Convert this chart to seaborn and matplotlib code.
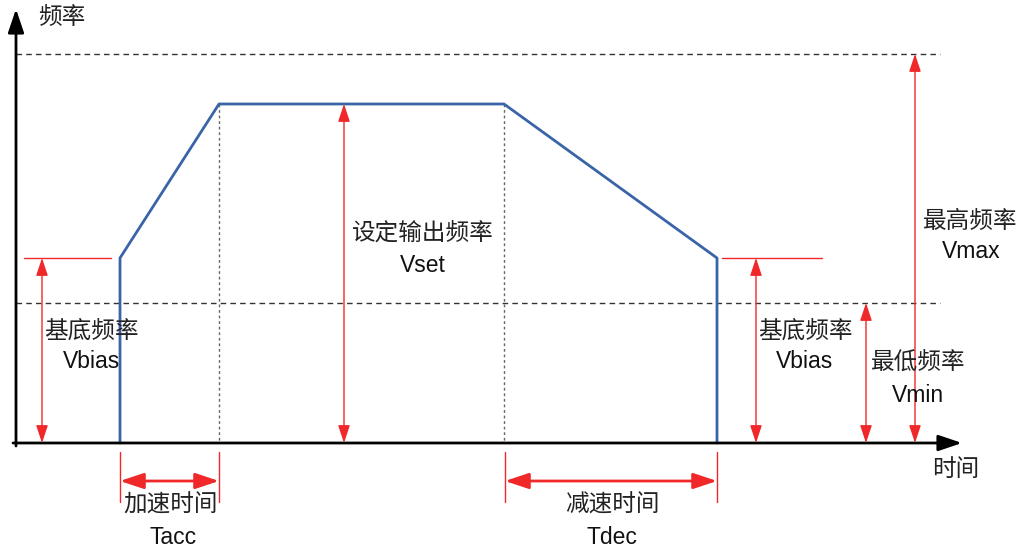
import matplotlib
matplotlib.use('Agg')
import matplotlib.pyplot as plt
import seaborn as sns
import pandas as pd
from matplotlib import font_manager

sns.set_theme(style='white')
plt.rcParams['font.family'] = ['Liberation Sans', 'Noto Sans CJK SC', 'DejaVu Sans']

names = sorted({f.name for f in font_manager.fontManager.ttflist})
narrow = 'Liberation Sans Narrow' if 'Liberation Sans Narrow' in names else 'Liberation Sans'
print(narrow)

# speed profile (pixel-like diagram coordinates, y grows downward)
curve_x = [120, 120, 219, 504, 717, 717]
curve_y = [443, 258, 104, 104, 258, 443]

# reference levels
y_base = 443
y_vmax = 54
y_vmin = 303
y_vbias = 258
y_vset = 104

# dimension arrows: (x, top)
v_arrows = [(42, y_vbias), (344, y_vset), (756, y_vbias), (866, y_vmin), (915, y_vmax)]
t_spans = [(120, 219), (505, 717)]

cjk_labels = [
    ('频率', 62, 18),
    ('时间', 956, 470),
    ('设定输出频率', 423, 234),
    ('基底频率', 91, 331),
    ('基底频率', 805, 331),
    ('最低频率', 918, 364),
    ('最高频率', 970, 222),
    ('加速时间', 171, 506),
    ('减速时间', 612, 506),
]
latin_labels = [
    ('Vset', 423, 265),
    ('Vbias', 92, 362),
    ('Vbias', 805, 362),
    ('Vmin', 918, 396),
    ('Vmax', 971, 252),
    ('Tacc', 173, 537),
    ('Tdec', 612, 537),
]

fig = plt.figure(figsize=(10.26, 5.5), dpi=100)
ax = fig.add_axes([0, 0, 1, 1])
ax.set_xlim(0, 1026)
ax.set_ylim(550, 0)
ax.axis('off')

red = '#f0282a'
blue = '#3a64a8'

# dashed limit lines
ax.plot([16, 940], [y_vmax, y_vmax], ls=(0, (4, 3)), color='#333333', lw=1)
ax.plot([16, 940], [y_vmin, y_vmin], ls=(0, (4, 3)), color='#333333', lw=1)
# dotted verticals
for xv in [219, 504]:
    ax.plot([xv, xv], [y_vset, y_base], ls=(0, (2, 2)), color='#666666', lw=1)

# axes arrows
axis_head = '-|>,head_length=0.65,head_width=0.22'
ax.annotate('', xy=(16, 9), xytext=(16, 446),
            arrowprops=dict(arrowstyle=axis_head, color='black', lw=2,
                            mutation_scale=22, shrinkA=0, shrinkB=0))
ax.annotate('', xy=(962, y_base), xytext=(13, y_base),
            arrowprops=dict(arrowstyle=axis_head, color='black', lw=2,
                            mutation_scale=22, shrinkA=0, shrinkB=0))

df = pd.DataFrame({'t': curve_x, 'f': curve_y})
sns.lineplot(data=df, x='t', y='f', sort=False, estimator=None, color=blue, lw=2, ax=ax)

# vbias guide lines
ax.plot([24, 111], [y_vbias, y_vbias], color=red, lw=1)
ax.plot([722, 822], [y_vbias, y_vbias], color=red, lw=1)

for xa, top in v_arrows:
    ax.annotate('', xy=(xa, top), xytext=(xa, y_base),
                arrowprops=dict(arrowstyle='<|-|>,head_length=0.6,head_width=0.2',
                                color=red, lw=1, mutation_scale=18,
                                shrinkA=0, shrinkB=0))

for x0, x1 in t_spans:
    ax.plot([x0, x0], [452, 502], color=red, lw=1)
    ax.plot([x1, x1], [452, 502], color=red, lw=1)
    ax.annotate('', xy=(x0, 481), xytext=(x1, 481),
                arrowprops=dict(arrowstyle='<|-|>,head_length=0.72,head_width=0.24',
                                color=red, lw=2, mutation_scale=20,
                                shrinkA=0, shrinkB=0))

for txt, tx, ty in cjk_labels:
    ax.text(tx, ty, txt, ha='center', va='center', fontsize=17, color='#222222')
for txt, tx, ty in latin_labels:
    ax.text(tx, ty, txt, ha='center', va='center', fontsize=18.5 if narrow != 'Liberation Sans' else 16.5,
            family=narrow, color='#111111')

fig.savefig('out.png', dpi=100)
